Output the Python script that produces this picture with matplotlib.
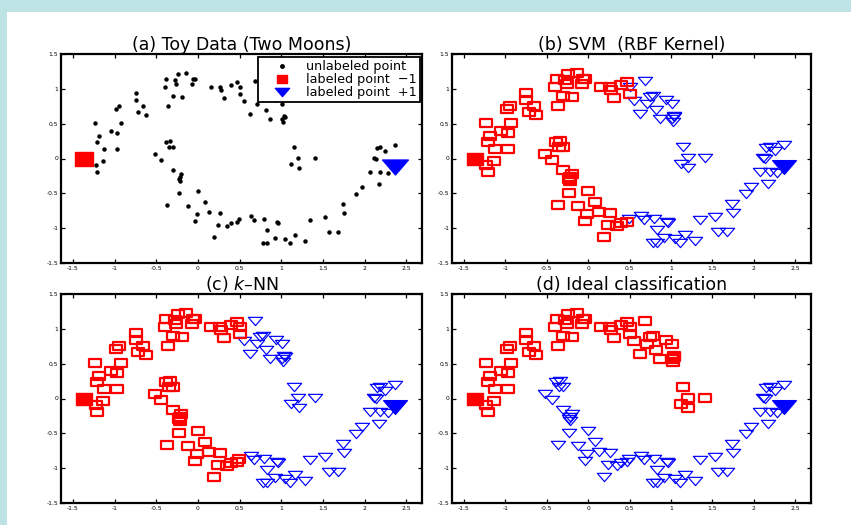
import matplotlib
matplotlib.use('Agg')
import matplotlib.pyplot as plt
from matplotlib.path import Path
from matplotlib.patches import Rectangle

plt.rcParams['font.family'] = ['DejaVu Sans']
plt.rcParams['axes.unicode_minus'] = False
plt.rcParams['mathtext.fontset'] = 'dejavusans'

# ---------------- data ----------------
point_x = [
    -1.24, -1.19, -1.21, -1.13, -1.14, -1.23, -1.21, -1.05, -0.97, -0.93, -0.97, -0.98, -0.95,
    -0.75, -0.75, -0.72, -0.66, -0.63, -0.40, -0.38, -0.36, -0.30, -0.28, -0.26, -0.24, -0.19,
    -0.14, -0.06, -0.04, -0.07, 0.16, 0.26, 0.28, 0.31, 0.40, 0.47, 0.50,
    0.50, 0.68, 0.55, 0.62, 0.74, 0.78, 0.71, 0.82, 0.87, 0.94, 1.01, 1.03, 1.04, 1.01, 1.02,
    1.15, 1.20, 1.21, 1.12, 1.41,
    -0.52, -0.44, -0.39, -0.34, -0.35, -0.30, -0.30, -0.20, -0.22, -0.22, -0.23, -0.23, -0.37,
    -0.12, 0.00, 0.08, -0.01, -0.04, 0.13, 0.26, 0.24, 0.19, 0.35, 0.40, 0.47, 0.49,
    0.64, 0.67, 0.79, 0.83, 0.78, 0.83, 0.92, 0.95, 0.96, 1.05, 1.11, 1.17, 1.29, 1.35, 1.53,
    1.57, 1.68, 1.75, 1.74, 1.90, 1.97, 2.07, 2.17, 2.19, 2.28, 2.11, 2.14, 2.15, 2.19, 2.25,
    2.37, 2.35,
]
point_y = [
    0.51, 0.33, 0.24, 0.13, -0.03, -0.09, -0.20, 0.40, 0.36, 0.51, 0.13, 0.71, 0.75,
    0.94, 0.84, 0.67, 0.76, 0.63, 1.02, 1.14, 0.76, 0.89, 1.13, 1.07, 1.21, 0.88,
    1.23, 1.14, 1.14, 1.07, 1.03, 1.02, 0.98, 0.87, 1.06, 1.10, 0.93,
    1.03, 1.11, 0.82, 0.64, 0.88, 0.89, 0.78, 0.69, 0.56, 0.84, 0.78, 0.61, 0.59, 0.56, 0.53,
    0.17, 0.01, -0.13, -0.08, 0.01,
    0.06, -0.02, 0.23, 0.25, 0.17, 0.17, -0.17, -0.22, -0.27, -0.33, -0.30, -0.49, -0.67,
    -0.68, -0.46, -0.63, -0.80, -0.89, -0.77, -0.78, -0.96, -1.13, -0.97, -0.92, -0.91, -0.87,
    -0.83, -0.88, -0.87, -1.02, -1.21, -1.21, -1.14, -0.91, -0.93, -1.16, -1.21, -1.10, -1.19, -0.88, -0.84,
    -1.05, -1.05, -0.78, -0.66, -0.51, -0.41, -0.20, -0.36, -0.20, -0.21, 0.01, 0.00, 0.15, 0.16, 0.11,
    0.19, -0.14,
]
# class labels (-1 = red square, +1 = blue triangle)
svm_labels = ([-1] * 37 + [1] * 15 + [1] * 5 + [-1] * 25 + [1] + [1] * 32)
knn_labels = ([-1] * 37 + [-1] + [1] * 14 + [1] * 5 + [-1] * 25 + [-1] + [1] * 32)
ideal_labels = ([-1] * 37 + [-1] * 15 + [-1] * 5 + [1] * 25 + [1] + [1] * 32)

labeled_x = [-1.37, 2.37]
labeled_y = [0.0, -0.12]

xticks = [-1.5, -1, -0.5, 0, 0.5, 1, 1.5, 2, 2.5]
xtick_labels = ['-1.5', '-1', '-0.5', '0', '0.5', '1', '1.5', '2', '2.5']
yticks = [-1.5, -1, -0.5, 0, 0.5, 1, 1.5]
ytick_labels = ['-1.5', '-1', '-0.5', '0', '0.5', '1', '1.5']

titles = ['(a) Toy Data (Two Moons)', '(b) SVM  (RBF Kernel)',
          '(c) $k$\u2013NN', '(d) Ideal classification']
legend_labels = ['unlabeled point', 'labeled point  \u22121', 'labeled point  +1']

# ---------------- markers ----------------
def closed(verts):
    codes = [Path.MOVETO] + [Path.LINETO] * (len(verts) - 2) + [Path.CLOSEPOLY]
    return Path(verts, codes)

sq_marker = closed([(-1, -0.66), (1, -0.66), (1, 0.66), (-1, 0.66), (-1, -0.66)])
big_sq_marker = closed([(-1, -0.8), (1, -0.8), (1, 0.8), (-1, 0.8), (-1, -0.8)])
tri_marker = closed([(-1, 0.58), (1, 0.58), (0, -0.58), (-1, 0.58)])

RED = '#ff0000'
BLUE = '#0000ff'

# ---------------- figure ----------------
W, H = 851, 525
fig = plt.figure(figsize=(W / 100, H / 100), dpi=100)
fig.patch.set_facecolor('#bde3e5')
fig.patches.append(Rectangle((7 / W, 0), 1, 1 - 12 / H, transform=fig.transFigure,
                             facecolor='white', edgecolor='none', zorder=-10))

boxes = [(61, 422, 54, 263), (452, 811, 54, 263), (61, 422, 294, 503), (452, 811, 294, 503)]
axes = []
for (l, r, t, b) in boxes:
    ax = fig.add_axes([l / W, 1 - b / H, (r - l) / W, (b - t) / H])
    axes.append(ax)

for ax, title in zip(axes, titles):
    ax.set_xlim(-1.645, 2.69)
    ax.set_ylim(-1.5, 1.5)
    ax.set_xticks(xticks)
    ax.set_xticklabels(xtick_labels)
    ax.set_yticks(yticks)
    ax.set_yticklabels(ytick_labels)
    ax.tick_params(direction='in', top=True, right=True, length=3, width=0.9,
                   labelsize=4.3, pad=2)
    for s in ax.spines.values():
        s.set_linewidth(1.6)
    ax.set_title(title, fontsize=12.5, pad=3)

# (a) toy data
ax = axes[0]
h0, = ax.plot(point_x, point_y, linestyle='none', marker='o', ms=2.2, color='black')
h1, = ax.plot(labeled_x[:1], labeled_y[:1], linestyle='none', marker=big_sq_marker, ms=12.5,
              color=RED)
h2, = ax.plot(labeled_x[1:], labeled_y[1:], linestyle='none', marker=tri_marker, ms=18.5,
              color=BLUE)
leg = ax.legend([h0, h1, h2], legend_labels, loc='upper right', bbox_to_anchor=(0.994, 0.986),
                fontsize=9.2, frameon=True, fancybox=False, edgecolor='black', framealpha=1,
                borderpad=0.25, labelspacing=0.0, handlelength=3.2, handletextpad=0.3,
                borderaxespad=0, markerscale=0.55)
leg.get_frame().set_linewidth(1.3)
leg.legend_handles[0].set_markersize(2.5)

# (b)-(d) classifications
for ax, labels in zip(axes[1:], [svm_labels, knn_labels, ideal_labels]):
    rx = [x for x, c in zip(point_x, labels) if c < 0]
    ry = [y for y, c in zip(point_y, labels) if c < 0]
    bx = [x for x, c in zip(point_x, labels) if c > 0]
    by = [y for y, c in zip(point_y, labels) if c > 0]
    ax.plot(bx, by, linestyle='none', marker=tri_marker, ms=10.3, mfc='none', mec=BLUE, mew=0.85)
    ax.plot(rx, ry, linestyle='none', marker=sq_marker, ms=8.2, mfc='none', mec=RED, mew=1.6)
    ax.plot(labeled_x[:1], labeled_y[:1], linestyle='none', marker=big_sq_marker, ms=11, color=RED)
    ax.plot(labeled_x[1:], labeled_y[1:], linestyle='none', marker=tri_marker, ms=17, color=BLUE)

fig.savefig('out.png', dpi=100, facecolor=fig.get_facecolor())
